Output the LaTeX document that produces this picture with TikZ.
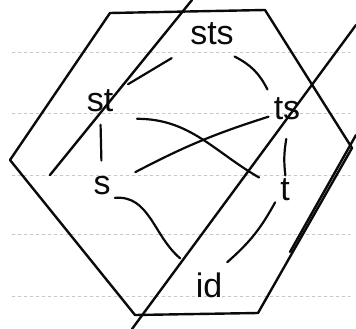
\documentclass[tikz,border=0pt]{standalone}
\usepackage{fontspec}
\setmainfont{Liberation Sans}
\usetikzlibrary{calc}
\definecolor{InkBlack}{RGB}{10,10,10}
\definecolor{RuleGray}{RGB}{200,200,200}

\begin{document}
\begin{tikzpicture}[x=1pt,y=-1pt,line width=2.4pt,line cap=round,line join=round,
    elt/.style={font=\fontsize{34}{36}\selectfont,inner sep=0pt,InkBlack},
    edge/.style={InkBlack,line width=2.2pt}]
      \useasboundingbox (0,0) rectangle (356,329);
      % notebook rules
      \foreach \y in {52,113,175,234,296}{
        \draw[RuleGray,dashed,line width=.5pt] (12,\y)--(350,\y);
      }
      % hexagon
      \draw[InkBlack] (110,13)--(265,10)--(352,148)--(258,313)--(135,315)--(10,160)--cycle;
      % the cut lines
      \draw[InkBlack] (192,0)--(50,175);
      \draw[InkBlack] (356,25)--(132,329);
      \draw[InkBlack] (356,135)--(290,252);
      % elements
      \node[elt] (sts) at (212,34) {sts};
      \node[elt] (st) at (100,101) {st};
      \node[elt] (ts) at (287,109) {ts};
      \node[elt] (s) at (102,186) {s};
      \node[elt] (t) at (285,190) {t};
      \node[elt] (id) at (209,285) {id};
      % covering relations
      \draw[edge] ($(sts)!0.36!(st)$)--($(sts)!0.75!(st)$);
      \draw[edge] ($(sts)!0.3!(ts)$) to[bend left=18] ($(sts)!0.74!(ts)$);
      \draw[edge] ($(st)!0.28!(s)$)--($(st)!0.7!(s)$);
      \draw[edge] ($(ts)!0.37!(t)$) to[bend right=8] ($(ts)!0.82!(t)$);
      \draw[edge] ($(st)!0.2!(t)$) to[out=0,in=150] ($(st)!0.86!(t)$);
      \draw[edge] ($(ts)!0.1!(s)$) to[bend right=5] ($(ts)!0.82!(s)$);
      \draw[edge] ($(s)!0.12!(id)$) to[out=5,in=140] ($(s)!0.73!(id)$);
      \draw[edge] ($(t)!0.13!(id)$) to[bend left=10] ($(t)!0.76!(id)$);
\end{tikzpicture}
\end{document}
